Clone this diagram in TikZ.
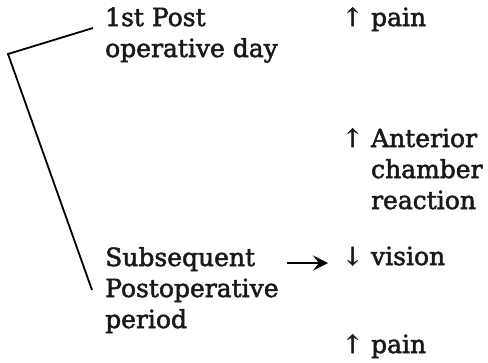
\documentclass[tikz,border=0pt]{standalone}
\usepackage{fontspec}
\setmainfont{DejaVu Serif}[FakeBold=2]
\usetikzlibrary{arrows.meta}
\usetikzlibrary{positioning}
\tikzstyle{txt} = [anchor=base west, inner sep=0pt, align=left, text=black!90,
font=\fontsize{25}{31}\selectfont]
\tikzstyle{arrow} = [line width=1.8pt,->,>={Stealth[inset=6pt,length=15pt,width=15pt]}]
\newcommand{\upar}{↑}
\newcommand{\dnar}{↓}

\begin{document}
\begin{tikzpicture}[x=1pt, y=-1pt]
  \useasboundingbox (0,0) rectangle (488,362);

  % left column (base = last line)
  \node (post1) [txt] at (105,57) {1st Post\\operative day};
  \node (subseq) [txt] at (105,328) {Subsequent\\Postoperative\\period};

  % right column
  \node (pain1) [txt] at (342,26) {\upar\ pain};
  \node (acr) [txt] at (342,209) {\upar\ Anterior\\\hphantom{\upar\ }chamber\\\hphantom{\upar\ }reaction};
  \node (vision) [txt] at (342,265) {\dnar\ vision};
  \node (pain2) [txt] at (342,353) {\upar\ pain};

  % bracket
  \coordinate (btop) at (93,28);
  \coordinate (bcorner) at (8,54);
  \coordinate (bbot) at (92,290);
  \draw[line width=1.8pt, line join=miter] (btop) -- (bcorner) -- (bbot);

  \coordinate (astart) at (287,263);
  \draw[arrow, shorten >=14pt] (astart) -- ([yshift=2pt]vision.base west);
\end{tikzpicture}
\end{document}
